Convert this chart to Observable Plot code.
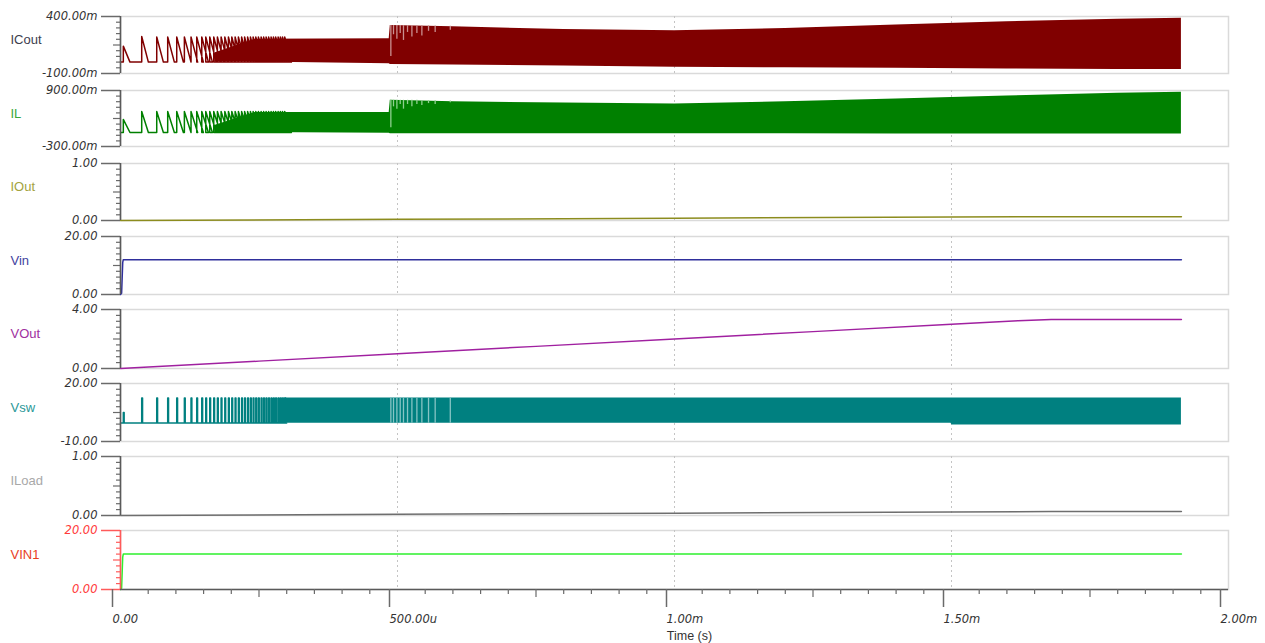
<!DOCTYPE html>
<html><head><meta charset="utf-8">
<script src="https://cdn.jsdelivr.net/npm/d3@7"></script>
<script src="https://cdn.jsdelivr.net/npm/@observablehq/plot@0.6"></script>
<style>
html,body{margin:0;padding:0;background:#fff;width:1265px;height:643px;overflow:hidden;}
#chart{position:relative;width:1265px;height:643px;}
#chart svg{position:absolute;left:0;overflow:visible;}
</style></head><body><div id="chart"></div>
<script>
// ---------- DATA (time in ms) ----------
const xTickValues = [0, 0.5, 1, 1.5, 2];
const xTickLabels = ["0.00", "500.00u", "1.00m", "1.50m", "2.00m"];

// early switching pulses (start times, ms)
const pulseTimes = [0.0051, 0.0383, 0.0654, 0.0852, 0.1015, 0.1153, 0.1273, 0.1376, 0.1467, 0.1539,
  0.1611, 0.1683, 0.1749, 0.1816, 0.1883, 0.1948, 0.2009, 0.2069, 0.2128, 0.2186, 0.2240, 0.2294,
  0.2345, 0.2394, 0.2442, 0.2489, 0.2538, 0.2583, 0.2628, 0.2673, 0.2718, 0.2760, 0.2801, 0.2845,
  0.2885, 0.2924, 0.2964];
const icoutPulsePeaks = [0.14, 0.225, 0.22, 0.22, 0.22, 0.22, 0.22, 0.22, 0.22, 0.22, 0.22, 0.22, 0.22,
  0.22, 0.22, 0.22, 0.22, 0.22, 0.22, 0.22, 0.22, 0.22, 0.22, 0.22, 0.22, 0.22, 0.22, 0.22, 0.22, 0.22,
  0.22, 0.22, 0.22, 0.22, 0.22, 0.22, 0.22];
const ilPulsePeaks = [0.28, 0.45, 0.45, 0.45, 0.45, 0.45, 0.45, 0.45, 0.45, 0.45, 0.45, 0.45, 0.45,
  0.45, 0.45, 0.45, 0.45, 0.45, 0.45, 0.45, 0.45, 0.45, 0.45, 0.45, 0.45, 0.45, 0.45, 0.45, 0.45, 0.45,
  0.45, 0.45, 0.45, 0.45, 0.45, 0.45, 0.45];
const vswSpikePeaks = [5, 12.5, 12.5, 12.5, 12.5, 12.5, 12.5, 12.5, 12.5, 12.5, 12.5, 12.5, 12.5,
  12.5, 12.5, 12.5, 12.5, 12.5, 12.5, 12.5, 12.5, 12.5, 12.5, 12.5, 12.5, 12.5, 12.5, 12.5, 12.5, 12.5,
  12.5, 12.5, 12.5, 12.5, 12.5, 12.5, 12.5];
const pulseFall = 0.012;   // inductor-current ramp-down duration
const vswOnTime = 0.0015;
const vswIdle = -0.4;

// dense switching envelopes
const icoutBandT  = [0.17, 0.243, 0.485, 0.487, 0.6, 0.8, 1.0, 1.2, 1.4, 1.6, 1.8, 1.915];
const icoutBandHi = [0.08, 0.20, 0.205, 0.32, 0.31, 0.285, 0.275, 0.295, 0.325, 0.355, 0.375, 0.385];
const icoutBandLo = [0.0, 0.0, -0.015, -0.02, -0.025, -0.035, -0.045, -0.05, -0.055, -0.06, -0.065, -0.065];
const ilBandT  = [0.17, 0.243, 0.485, 0.487, 0.6, 0.8, 1.0, 1.2, 1.4, 1.6, 1.8, 1.915];
const ilBandHi = [0.15, 0.43, 0.43, 0.69, 0.66, 0.63, 0.61, 0.66, 0.72, 0.78, 0.84, 0.865];
const ilBandLo = [0.0, 0.0, -0.015, -0.025, -0.025, -0.025, -0.025, -0.028, -0.03, -0.03, -0.03, -0.03];
const vswBandT  = [0.297, 1.499, 1.501, 1.915];
const vswBandHi = [12.5, 12.5, 12.5, 12.5];
const vswBandLo = [-0.6, -0.6, -1.5, -1.5];

// skipped-cycle gaps just after 0.49 ms (pale stripes in the dense bands)
const gapTimes    = [0.488, 0.4928, 0.4989, 0.5049, 0.5108, 0.5181, 0.526, 0.535, 0.544, 0.556, 0.568, 0.5953];
const icoutGapTop = [0.32, 0.32, 0.32, 0.32, 0.32, 0.32, 0.32, 0.32, 0.32, 0.318, 0.316, 0.314];
const icoutGapLow = [0.05, 0.24, 0.2, 0.25, 0.19, 0.26, 0.22, 0.25, 0.23, 0.27, 0.26, 0.28];
const ilGapTop    = [0.69, 0.69, 0.69, 0.69, 0.69, 0.69, 0.69, 0.69, 0.685, 0.68, 0.68, 0.675];
const ilGapLow    = [0.1, 0.55, 0.5, 0.6, 0.5, 0.6, 0.55, 0.6, 0.58, 0.62, 0.6, 0.64];
const vswGapTop   = [12.5, 12.5, 12.5, 12.5, 12.5, 12.5, 12.5, 12.5, 12.5, 12.5, 12.5, 12.5];
const vswGapLow   = [-0.6, -0.6, -0.6, -0.6, -0.6, -0.6, -0.6, -0.6, -0.6, -0.6, -0.6, -0.6];

// smooth signals
const vinT = [0, 0.002, 0.004, 0.005, 1.915];
const vinV = [0, 0.4, 11, 12, 12];
const vin1V = [0, 0.4, 11, 12, 12];
const voutT = [0, 0.25, 0.5, 0.75, 1.0, 1.25, 1.5, 1.62, 1.68, 1.915];
const voutV = [0, 0.5, 1.0, 1.5, 2.0, 2.5, 3.0, 3.24, 3.32, 3.32];
const ioutT = [0, 0.5, 1.0, 1.5, 1.68, 1.915];
const ioutV = [0, 0.02, 0.04, 0.06, 0.066, 0.066];
const iloadV = [0, 0.02, 0.04, 0.06, 0.066, 0.066];

// ---------- helpers ----------
function pulseLine(times, peaks, fall, base, endT) {
  const pts = [{t: 0, v: base}];
  times.forEach((t, i) => { pts.push({t, v: base}, {t, v: peaks[i]}, {t: t + fall, v: base}); });
  pts.push({t: endT, v: base});
  return pts;
}
function spikeLine(times, peaks, w, base, endT) {
  const pts = [{t: 0, v: base}];
  times.forEach((t, i) => { pts.push({t, v: base}, {t, v: peaks[i]}, {t: t + w, v: peaks[i]}, {t: t + w, v: base}); });
  pts.push({t: endT, v: base});
  return pts;
}
const zipLine = (T, V) => T.map((t, i) => ({t, v: V[i]}));
const zipBand = (T, L, H) => T.map((t, i) => ({t, lo: L[i], hi: H[i]}));
const gapRules = (L, H, col) => Plot.ruleX(zipBand(gapTimes, L, H), {x: "t", y1: "lo", y2: "hi", stroke: col, strokeWidth: 1.3});

// ---------- layout ----------
const W = 1265, ML = 120, MR = 37;
const panels = [
  {name: "ICout", nameColor: "#3d3d4d", domain: [-0.1, 0.4], labels: ["-100.00m", "400.00m"], top: 16, bottom: 73,
   marks: c => [Plot.line(pulseLine(pulseTimes, icoutPulsePeaks, pulseFall, 0, 0.3), {x: "t", y: "v", stroke: c, strokeWidth: 1.5}),
                Plot.areaY(zipBand(icoutBandT, icoutBandLo, icoutBandHi), {x: "t", y1: "lo", y2: "hi", fill: c}),
                gapRules(icoutGapLow, icoutGapTop, "#c99090")], color: "#800000"},
  {name: "IL", nameColor: "#3aa83a", domain: [-0.3, 0.9], labels: ["-300.00m", "900.00m"], top: 90, bottom: 146,
   marks: c => [Plot.line(pulseLine(pulseTimes, ilPulsePeaks, pulseFall, 0, 0.3), {x: "t", y: "v", stroke: c, strokeWidth: 1.5}),
                Plot.areaY(zipBand(ilBandT, ilBandLo, ilBandHi), {x: "t", y1: "lo", y2: "hi", fill: c}),
                gapRules(ilGapLow, ilGapTop, "#8fcf8f")], color: "#008000"},
  {name: "IOut", nameColor: "#a3a340", domain: [0, 1], labels: ["0.00", "1.00"], top: 163, bottom: 220,
   marks: c => [Plot.line(zipLine(ioutT, ioutV), {x: "t", y: "v", stroke: c, strokeWidth: 1.5})], color: "#8c8c1e"},
  {name: "Vin", nameColor: "#4242a0", domain: [0, 20], labels: ["0.00", "20.00"], top: 236, bottom: 294,
   marks: c => [Plot.line(zipLine(vinT, vinV), {x: "t", y: "v", stroke: c, strokeWidth: 1.5})], color: "#2f2f9c"},
  {name: "VOut", nameColor: "#a030a0", domain: [0, 4], labels: ["0.00", "4.00"], top: 309, bottom: 368,
   marks: c => [Plot.line(zipLine(voutT, voutV), {x: "t", y: "v", stroke: c, strokeWidth: 1.5})], color: "#a020a0"},
  {name: "Vsw", nameColor: "#2a9898", domain: [-10, 20], labels: ["-10.00", "20.00"], top: 383, bottom: 441,
   marks: c => [Plot.line(spikeLine(pulseTimes, vswSpikePeaks, vswOnTime, vswIdle, 0.3), {x: "t", y: "v", stroke: c, strokeWidth: 1.5}),
                Plot.areaY(zipBand(vswBandT, vswBandLo, vswBandHi), {x: "t", y1: "lo", y2: "hi", fill: c}),
                gapRules(vswGapLow, vswGapTop, "#86c4c4")], color: "#008080"},
  {name: "ILoad", nameColor: "#a8a8a8", domain: [0, 1], labels: ["0.00", "1.00"], top: 456, bottom: 515,
   marks: c => [Plot.line(zipLine(ioutT, iloadV), {x: "t", y: "v", stroke: c, strokeWidth: 1.5})], color: "#6e6e6e"},
  {name: "VIN1", nameColor: "#e8401e", domain: [0, 20], labels: ["0.00", "20.00"], top: 530, bottom: 589,
   marks: c => [Plot.line(zipLine(vinT, vin1V), {x: "t", y: "v", stroke: c, strokeWidth: 1.5})], color: "#2ef02e",
   axisColor: "#ff5a5a", tickLabelColor: "#ff3a3a"}
];

const chart = document.getElementById("chart");
const tickFont = "DejaVu Sans, sans-serif";
panels.forEach((p, idx) => {
  const last = idx === panels.length - 1;
  const mt = 10, mb = last ? 643 - p.bottom : 10;
  const h = mt + (p.bottom - p.top) + mb;
  const [lo, hi] = p.domain;
  const minor = d3.range(1, 10).filter(i => i !== 5).map(i => lo + (hi - lo) * i / 10);
  const mid = [lo + (hi - lo) / 2];
  const axisCol = p.axisColor || "#5a5a5a";
  const tickCol = p.axisColor || "#6a6a6a";
  const lblCol = p.tickLabelColor || "#333";
  const marks = [
    Plot.frame({stroke: "#dadada", strokeWidth: 1.5}),
    Plot.ruleX([0.5, 1, 1.5], {stroke: "#c4c4c4", strokeDasharray: "2,3"}),
    ...p.marks(p.color),
    Plot.axisY({ticks: minor, tickSize: 4, tickFormat: () => "", stroke: tickCol, label: null, strokeWidth: 1.2}),
    Plot.axisY({ticks: mid, tickSize: 7, tickFormat: () => "", stroke: tickCol, label: null, strokeWidth: 1.2}),
    Plot.axisY({ticks: [lo, hi], tickSize: 19, tickPadding: 4, label: null, stroke: tickCol, strokeWidth: 1.5,
      tickFormat: d => (d === lo ? p.labels[0] : p.labels[1]),
      fill: lblCol, fontStyle: "italic", fontFamily: tickFont, fontSize: 11.5}),
    Plot.ruleX([0], {stroke: axisCol, strokeWidth: 1.6}),
    Plot.text([p.name], {frameAnchor: "left", dx: -110, dy: -5, textAnchor: "start", fill: p.nameColor, fontSize: 13})
  ];
  if (last) {
    const minorX = d3.range(1, 40).filter(i => i % 5 !== 0).map(i => i * 0.05);
    const medX = [0.25, 0.75, 1.25, 1.75];
    marks.push(
      Plot.ruleY([lo], {stroke: "#5a5a5a", strokeWidth: 1.6}),
      Plot.axisX({ticks: minorX, tickSize: 5, tickFormat: () => "", stroke: "#6a6a6a", label: null, anchor: "bottom", strokeWidth: 1.2}),
      Plot.axisX({ticks: medX, tickSize: 8, tickFormat: () => "", stroke: "#6a6a6a", label: null, anchor: "bottom", strokeWidth: 1.2}),
      Plot.axisX({ticks: xTickValues, tickSize: 18, tickPadding: 7, label: null, anchor: "bottom", stroke: "#6a6a6a", strokeWidth: 1.5,
        tickFormat: d => xTickLabels[xTickValues.indexOf(d)], textAnchor: "start", dx: -8,
        fill: "#333", fontStyle: "italic", fontFamily: tickFont, fontSize: 11.5}),
      Plot.text(["Time (s)"], {frameAnchor: "bottom", dy: 50, dx: 15, fill: "#333", fontSize: 12.5})
    );
  }
  const svg = Plot.plot({
    width: W, height: h, marginLeft: ML, marginRight: MR, marginTop: mt, marginBottom: mb,
    x: {domain: [0, 2], axis: null},
    y: {domain: [lo, hi], axis: null},
    style: {fontFamily: "Liberation Sans, Arial, sans-serif", background: "transparent", overflow: "visible"},
    marks
  });
  svg.style.top = (p.top - mt) + "px";
  chart.appendChild(svg);
});
</script></body></html>
